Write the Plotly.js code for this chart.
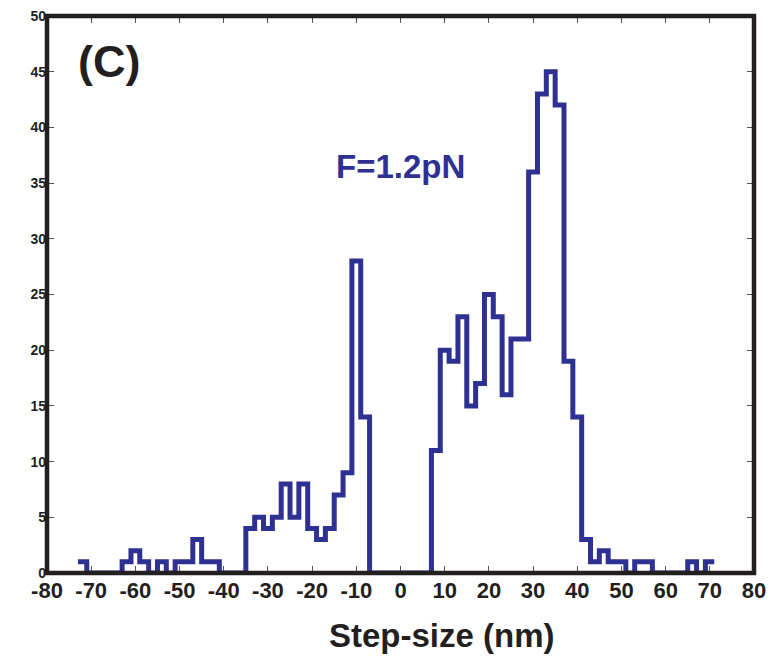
<!DOCTYPE html>
<html>
<head>
<meta charset="utf-8">
<script src="https://cdn.plot.ly/plotly-3.0.1.min.js"></script>
<style>html,body{margin:0;padding:0;background:#fff;}#chart{width:780px;height:656px;}</style>
</head>
<body>
<div id="chart"></div>
<script>
// Histogram bin centers (nm), bin width 2 nm
const binCenters = [-72,-70,-68,-66,-64,-62,-60,-58,-56,-54,-52,-50,-48,-46,-44,-42,-40,-38,-36,
  -34,-32,-30,-28,-26,-24,-22,-20,-18,-16,-14,-12,-10,-8,-6,-4,-2,0,2,4,6,
  8,10,12,14,16,18,20,22,24,26,28,30,32,34,36,38,40,42,44,46,48,50,52,54,56,58,60,62,64,66,68,70];
// Counts per bin
const counts = [1,0,0,0,0,1,2,1,0,1,0,1,1,3,1,1,0,0,0,
  4,5,4,5,8,5,8,4,3,4,7,9,28,14,0,0,0,0,0,0,0,
  11,20,19,23,15,17,25,23,16,21,21,36,43,45,42,19,14,3,1,2,1,1,0,1,1,0,0,0,0,1,0,1];
const binWidth = 2;
const xTicks = [-80,-70,-60,-50,-40,-30,-20,-10,0,10,20,30,40,50,60,70,80];
const yTicks = [0,5,10,15,20,25,30,35,40,45,50];
const forceLabel = "F=1.2pN";
const panelLabel = "(C)";
const xTitle = "Step-size (nm)";

// step outline: left edges + final right edge
const sx = binCenters.map(c => c - binWidth/2);
sx.push(binCenters[binCenters.length-1] + binWidth/2);
const sy = counts.slice();
sy.push(counts[counts.length-1]);

const blue = '#2E3192';
const ink = '#231F20';
const fam = 'Liberation Sans, Arial, Helvetica, sans-serif';

const trace = {
  x: sx, y: sy, type: 'scatter', mode: 'lines',
  line: {shape: 'hv', color: blue, width: 5},
  hoverinfo: 'skip'
};

const layout = {
  width: 780, height: 656,
  margin: {l: 47, r: 26, t: 16, b: 83},
  paper_bgcolor: '#fff', plot_bgcolor: '#fff',
  showlegend: false,
  xaxis: {
    range: [-80, 80], tickmode: 'array', tickvals: xTicks, ticktext: xTicks.map(String),
    ticks: 'inside', ticklen: 7, tickwidth: 1, tickcolor: '#555', mirror: 'ticks',
    showline: false, showgrid: false, zeroline: false, ticklabelstandoff: 2,
    tickfont: {family: fam, size: 22, color: ink, weight: 'bold'}
  },
  yaxis: {
    range: [0, 50], tickmode: 'array', tickvals: yTicks, ticktext: yTicks.map(String),
    ticks: 'inside', ticklen: 7, tickwidth: 1, tickcolor: '#555', mirror: 'ticks',
    showline: false, showgrid: false, zeroline: false,
    tickfont: {family: fam, size: 14, color: ink, weight: 'bold'}
  },
  shapes: [{
    type: 'rect', xref: 'paper', yref: 'paper', x0: 0, x1: 1, y0: 0, y1: 1,
    line: {color: ink, width: 4.5}, layer: 'above'
  }],
  annotations: [
    {text: panelLabel, xref: 'paper', yref: 'paper', x: 0.0884, y: 0.919,
     xanchor: 'center', yanchor: 'middle', showarrow: false,
     font: {family: fam, size: 45, color: ink, weight: 'bold'}},
    {text: forceLabel, xref: 'paper', yref: 'paper', x: 0.4995, y: 0.7307,
     xanchor: 'center', yanchor: 'middle', showarrow: false,
     font: {family: fam, size: 33, color: blue, weight: 'bold'}},
    {text: xTitle, xref: 'paper', yref: 'paper', x: 0.5585, y: -0.113,
     xanchor: 'center', yanchor: 'middle', showarrow: false,
     font: {family: fam, size: 33, color: ink, weight: 'bold'}}
  ]
};

Plotly.newPlot('chart', [trace], layout, {staticPlot: true, displayModeBar: false});
</script>
</body>
</html>
